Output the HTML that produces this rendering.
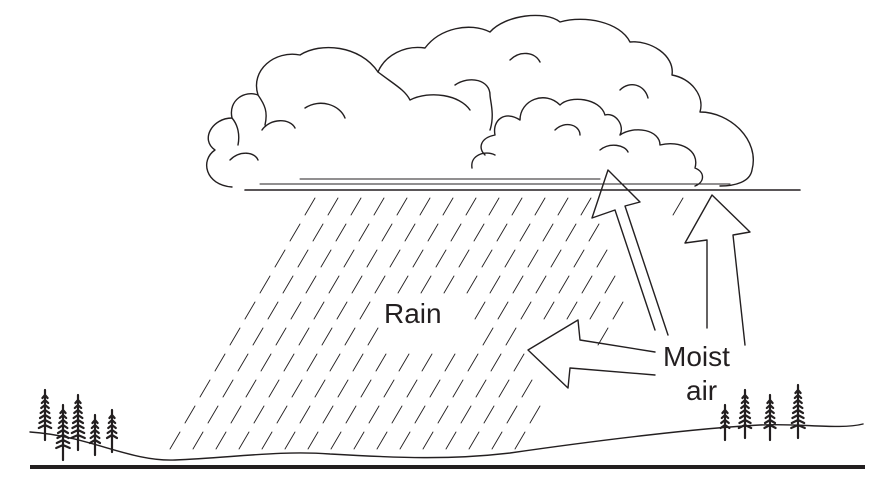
<!DOCTYPE html>
<html><head><meta charset="utf-8"><style>
html,body{margin:0;padding:0;background:#fff;}
svg{display:block;}
text{font-family:"Liberation Sans",sans-serif;fill:#231f20;}
</style></head><body>
<svg id="s" width="886" height="491" viewBox="0 0 886 491">
<g fill="none" stroke="#231f20" stroke-width="1.4" stroke-linecap="round" stroke-linejoin="round">
 <path d="M232,187 C205,185 200,160 215,150 C200,140 212,118 232,118 C228,100 245,90 258,95 C250,70 275,50 300,55 C320,42 360,45 378,72 C385,55 405,45 425,48 C440,28 470,22 490,32 C505,15 545,10 560,22 C585,15 620,22 630,42 C650,40 675,55 672,75 C690,78 705,95 700,112 C730,112 760,140 752,170 C750,182 735,186 720,186"/>
 <path d="M378,72 C395,85 405,90 410,100 C430,90 460,95 470,110 M258,95 C265,105 268,112 265,125 M232,118 C238,125 240,135 238,145 M305,108 C320,98 340,105 345,118 M262,130 C270,118 290,118 295,128"/>
 <path d="M485,155 C478,148 480,138 495,135 C492,120 505,110 520,120 C520,100 545,90 560,105 C570,95 600,98 605,115 C615,112 625,125 620,135 C635,125 660,130 660,145 C680,140 700,150 695,168 C705,172 705,182 695,186 M472,168 C470,155 485,150 495,155 M455,85 C470,75 490,80 490,95 M510,60 C520,50 535,52 540,62 M620,90 C630,80 645,85 648,98 M490,130 C495,115 490,100 490,95"/>
 <path d="M230,160 C240,150 255,152 258,160 M555,130 C565,120 580,125 580,135 M600,150 C610,142 625,145 628,152"/>
 <line x1="245" y1="190" x2="800" y2="190" stroke-width="1.6"/>
 <line x1="260" y1="184" x2="730" y2="184" stroke-width="1.1"/>
 <line x1="300" y1="179" x2="600" y2="179" stroke-width="1"/>
 <path d="M30,432 C90,436 130,462 175,460 C230,458 280,450 330,454 C400,458 450,460 510,453 C600,440 700,428 760,425 C800,423 840,430 863,424"/>
 <path d="M655,330 L615,210 L592,218 L608,170 L640,202 L625,206 L668,335"/>
 <path d="M707,328 L707,240 L685,243 L712,195 L750,232 L733,235 L745,345"/>
 <path d="M655,352 L580,340 L578,320 L528,350 L568,388 L570,368 L655,375"/>
 <g id="rain" stroke-width="0.9"></g>
 <g id="trees" stroke-width="2.2"></g>
</g>
<line x1="30" y1="467" x2="865" y2="467" stroke="#231f20" stroke-width="4"/>
<text x="384" y="323" font-size="28">Rain</text>
<text x="663" y="366" font-size="28">Moist</text>
<text x="686" y="400" font-size="28">air</text>
</svg>
<script>
const rowYs=[198,224,250,276,302,328,354,380,406,432];
const rowStarts=[305,290,275,260,245,230,215,200,185,170];
const rowEnds=[695,675,655,640,620,600,585,565,545,530];
const trees=[[45,390,440],[63,405,460],[78,395,450],[95,415,455],[112,410,452],[725,405,440],[745,390,438],[770,395,440],[798,385,438]];
const ns="http://www.w3.org/2000/svg";
const rain=document.getElementById('rain');
rowYs.forEach((y,i)=>{
 for(let x=rowStarts[i];x<=rowEnds[i];x+=23){
  if(y>285&&y<335&&x>370&&x<470) continue;
  if(x>595&&x<660&&y<330&&x>600+ (y-200)*0.2) continue;
  if(y>320&&y<390&&x>525&&x<590) continue;
  const l=document.createElementNS(ns,'line');
  l.setAttribute('x1',x);l.setAttribute('y1',y+17);
  l.setAttribute('x2',x+10);l.setAttribute('y2',y);
  
  
  rain.appendChild(l);
 }
});
const tg=document.getElementById('trees');
trees.forEach(t=>{
 const [x,top,bot]=t;
 let d=`M${x},${top}L${x},${bot}`;
 for(let y=top+5;y<bot-12;y+=5){const w=2+(y-top)*0.12;d+=`M${x-w},${y+3}L${x},${y}L${x+w},${y+3}`;}
 const p=document.createElementNS(ns,'path');
 p.setAttribute('d',d);
 
 
 tg.appendChild(p);
});
</script>
</body></html>
